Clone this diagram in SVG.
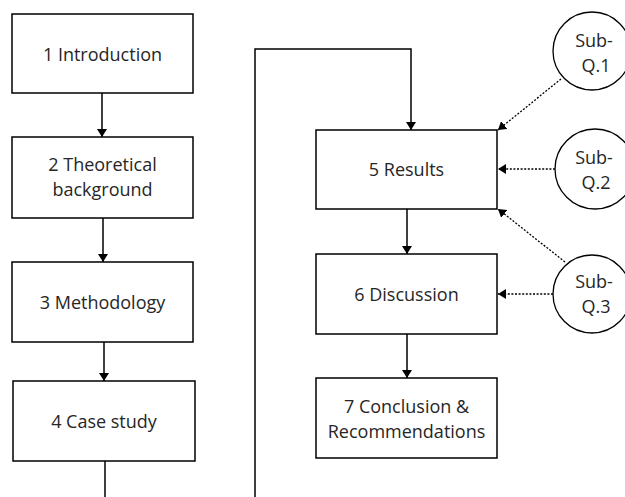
<svg xmlns="http://www.w3.org/2000/svg" width="625" height="497" viewBox="0 0 625 497">
  <defs>
    <marker id="head" viewBox="0 0 8 10" refX="8" refY="5" markerWidth="8" markerHeight="10" markerUnits="userSpaceOnUse" orient="auto">
      <path d="M0,0 L8,5 L0,10 Z" fill="#000"/>
    </marker>
    <style>
      .box { fill: #fff; stroke: #000; stroke-width: 1.5; }
      .ring { fill: #fff; stroke: #000; stroke-width: 1.3; }
      .lbl { font-family: "Open Sans", "Noto Sans", sans-serif; font-size: 18px; fill: #262626; text-anchor: middle; }
      .flow { fill: none; stroke: #000; stroke-width: 1.5; }
      .solid { marker-end: url(#head); }
      .dot { fill: none; stroke: #000; stroke-width: 1.3; stroke-dasharray: 2 1.6; marker-end: url(#head); }
    </style>
  </defs>
  <rect width="625" height="497" fill="#fff"/>

  <!-- connectors -->
  <g id="connectors">
    <line class="flow solid" x1="102" y1="93" x2="102" y2="137"/>
    <line class="flow solid" x1="103" y1="218" x2="103" y2="262"/>
    <line class="flow solid" x1="104" y1="342" x2="104" y2="381"/>
    <line class="flow" x1="105" y1="461" x2="105" y2="497"/>
    <polyline class="flow solid" points="255,497 255,49 411,49 411,130"/>
    <line class="flow solid" x1="407" y1="209" x2="407" y2="254"/>
    <line class="flow solid" x1="407" y1="334" x2="407" y2="378"/>
    <line class="dot" x1="561" y1="79" x2="498" y2="130"/>
    <line class="dot" x1="555" y1="169" x2="498" y2="169"/>
    <line class="dot" x1="565" y1="262" x2="498" y2="209"/>
    <line class="dot" x1="553" y1="294" x2="498" y2="294"/>
  </g>

  <g id="n1">
    <rect class="box" x="12" y="14" width="181" height="79"/>
    <text class="lbl" x="102.5" y="61">1 Introduction</text>
  </g>
  <g id="n2">
    <rect class="box" x="12" y="137" width="181" height="81"/>
    <text class="lbl" x="102.5" y="171">2 Theoretical</text>
    <text class="lbl" x="102.5" y="196">background</text>
  </g>
  <g id="n3">
    <rect class="box" x="12" y="262" width="181" height="80"/>
    <text class="lbl" x="102.5" y="309">3 Methodology</text>
  </g>
  <g id="n4">
    <rect class="box" x="13" y="381" width="182" height="80"/>
    <text class="lbl" x="104" y="428">4 Case study</text>
  </g>
  <g id="n5">
    <rect class="box" x="316" y="130" width="181" height="79"/>
    <text class="lbl" x="406.5" y="176">5 Results</text>
  </g>
  <g id="n6">
    <rect class="box" x="316" y="254" width="181" height="80"/>
    <text class="lbl" x="406.5" y="301">6 Discussion</text>
  </g>
  <g id="n7">
    <rect class="box" x="316" y="378" width="181" height="80"/>
    <text class="lbl" x="406.5" y="413">7 Conclusion &amp;</text>
    <text class="lbl" x="406.5" y="438">Recommendations</text>
  </g>
  <g id="q1">
    <circle class="ring" cx="592" cy="51" r="39"/>
    <text class="lbl" x="594" y="47">Sub-</text>
    <text class="lbl" x="596" y="72">Q.1</text>
  </g>
  <g id="q2">
    <circle class="ring" cx="595" cy="169" r="40"/>
    <text class="lbl" x="594" y="164">Sub-</text>
    <text class="lbl" x="596" y="189">Q.2</text>
  </g>
  <g id="q3">
    <circle class="ring" cx="592" cy="294" r="39"/>
    <text class="lbl" x="594" y="288">Sub-</text>
    <text class="lbl" x="596" y="313">Q.3</text>
  </g>
</svg>
